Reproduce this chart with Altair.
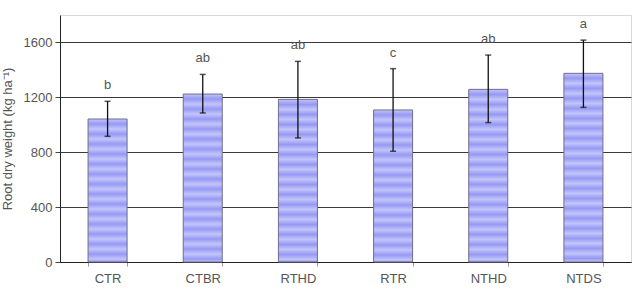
import altair as alt
import pandas as pd

# Root dry weight by tillage treatment, with error bar limits and letter groups
treatments = ["CTR", "CTBR", "RTHD", "RTR", "NTHD", "NTDS"]
root_weight = [1042, 1224, 1185, 1108, 1258, 1375]
err_low = [916, 1086, 904, 807, 1016, 1127]
err_high = [1171, 1367, 1462, 1409, 1508, 1617]
letters = ["b", "ab", "ab", "c", "ab", "a"]

df = pd.DataFrame({
    "trt": treatments,
    "w": root_weight,
    "lo": err_low,
    "hi": err_high,
    "grp": letters,
})

PLOT_W, PLOT_H = 571, 247
Y_MAX = 1800
STRIPE = 10.0  # stripe period in pixels
LIGHT, DARK = "#c3c5fb", "#9699f3"

x_enc = alt.X(
    "trt:N",
    sort=treatments,
    title=None,
    scale=alt.Scale(paddingInner=0.59, paddingOuter=0.295),
    axis=alt.Axis(
        labelAngle=0, labelFont="Liberation Sans", labelFontSize=13,
        labelColor="#555555", labelPadding=6, domainColor="#222222",
        tickBand="extent", tickColor="#999999", tickSize=4,
    ),
)
y_scale = alt.Scale(domain=[0, Y_MAX], nice=False)
y_enc = alt.Y(
    "w:Q",
    scale=y_scale,
    title="Root dry weight (kg ha⁻¹)",
    axis=alt.Axis(
        values=[0, 400, 800, 1200, 1600], format="d", labelFont="Liberation Sans",
        labelFontSize=13, labelColor="#555555", labelPadding=3,
        titleFont="Liberation Sans", titleFontSize=13, titleFontWeight="normal",
        titleColor="#555555", titlePadding=9, tickSize=5, tickColor="#444444",
        domainColor="#222222", gridColor="#3a3a3a", gridWidth=1,
    ),
)

base = alt.Chart(df)


def striped_fill(value):
    # horizontal bands of alternating shade, sized in pixels
    h = value / Y_MAX * PLOT_H
    stops = []
    n = int(h // STRIPE) + 2
    for k in range(n):
        t0 = min(k * STRIPE / h, 1.0)
        t1 = min((k + 0.5) * STRIPE / h, 1.0)
        stops.append(alt.GradientStop(offset=t0, color=LIGHT))
        stops.append(alt.GradientStop(offset=t1, color=DARK))
        if t1 >= 1.0:
            break
    return alt.Gradient(gradient="linear", x1=0, y1=0, x2=0, y2=1, stops=stops)


bars = [
    base.transform_filter(alt.datum.trt == t)
    .mark_bar(fill=striped_fill(v), stroke="#6f6f8a", strokeWidth=1)
    .encode(x=x_enc, y=y_enc)
    for t, v in zip(treatments, root_weight)
]

err_line = base.mark_rule(color="#111111", strokeWidth=1.3).encode(
    x=x_enc, y=alt.Y("lo:Q", scale=y_scale), y2="hi:Q"
)
cap_hi = base.mark_tick(color="#111111", size=6, thickness=1.5, orient="horizontal").encode(
    x=x_enc, y=alt.Y("hi:Q", scale=y_scale)
)
cap_lo = base.mark_tick(color="#111111", size=6, thickness=1.5, orient="horizontal").encode(
    x=x_enc, y=alt.Y("lo:Q", scale=y_scale)
)
group_text = base.mark_text(
    font="Liberation Sans", fontSize=13, color="#555555", dy=-16, baseline="middle"
).encode(x=x_enc, y=alt.Y("hi:Q", scale=y_scale), text="grp:N")

chart = (
    alt.layer(*bars, err_line, cap_hi, cap_lo, group_text)
    .properties(
        width=PLOT_W,
        height=PLOT_H,
        autosize="none",
        padding={"left": 60, "top": 15, "right": 3, "bottom": 27},
        background="white",
    )
    .configure_view(stroke="#d8d8d8", strokeWidth=1)
)

chart.save("out.html", embed_options={"renderer": "svg", "actions": False})
